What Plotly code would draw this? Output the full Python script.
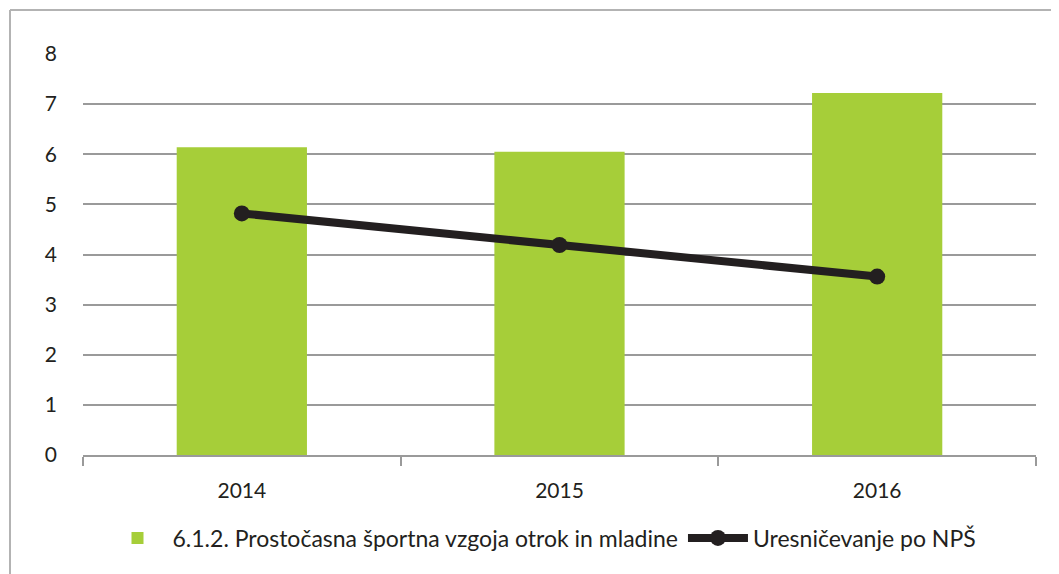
import plotly.graph_objects as go

years = ["2014", "2015", "2016"]
bar_values = [6.14, 6.05, 7.22]
line_values = [4.82, 4.19, 3.56]
bar_name = "6.1.2. Prostočasna športna vzgoja otrok in mladine"
line_name = "Uresničevanje po NPŠ"
y_ticks = [0, 1, 2, 3, 4, 5, 6, 7, 8]

W, H = 1059, 574
OFF = 8  # page body margin
# desired screen positions of plot area
SL, SR, ST, SB = 83, 1036, 54, 455
L = SL - OFF
T = ST - OFF
R = W - (SR - OFF)
B = H - (SB - OFF)
pw, ph = W - L - R, H - T - B

def px_x(sx):
    return (sx - OFF - L) / pw

def px_y(sy):
    return (H - B - (sy - OFF)) / ph

fig = go.Figure()
fig.add_trace(go.Bar(
    x=years, y=bar_values, name=bar_name,
    marker=dict(color="#A6CE39", line=dict(width=0)),
))
fig.add_trace(go.Scatter(
    x=years, y=line_values, name=line_name, mode="lines+markers",
    line=dict(color="#231F20", width=8),
    marker=dict(color="#231F20", size=16),
))

font = "Lato, 'Open Sans', sans-serif"
fig.update_layout(
    width=W, height=H,
    margin=dict(l=L, r=R, t=T, b=B, autoexpand=False),
    paper_bgcolor="white", plot_bgcolor="white",
    font=dict(family=font, size=21, color="#231F20"),
    bargap=0.59,
    showlegend=True,
    legend=dict(
        orientation="h", x=px_x(542), xanchor="center",
        y=px_y(538), yanchor="middle",
        font=dict(size=23, color="#231F20"),
        itemwidth=60,
        traceorder="normal",
    ),
    xaxis=dict(
        type="category", showgrid=False,
        showline=True, linecolor="#9a9a9a", linewidth=1.5,
        ticks="outside", tickson="boundaries", ticklen=9,
        tickcolor="#9a9a9a", tickwidth=1.5,
        ticklabelstandoff=16,
        tickfont=dict(size=21),
    ),
    yaxis=dict(
        range=[0, 8], tickvals=y_ticks,
        showgrid=True, gridcolor="#9a9a9a", gridwidth=1.5,
        zeroline=False, showline=False, ticks="",
        ticklabelstandoff=25,
        tickfont=dict(size=21),
    ),
    shapes=[
        dict(type="line", xref="paper", yref="paper",
             x0=px_x(10), x1=px_x(W + 20), y0=px_y(10), y1=px_y(10),
             line=dict(color="#b3b3b3", width=2)),
        dict(type="line", xref="paper", yref="paper",
             x0=px_x(10), x1=px_x(10), y0=px_y(10), y1=px_y(H + 20),
             line=dict(color="#b3b3b3", width=2)),
    ],
)

fig.write_html("out.html")
